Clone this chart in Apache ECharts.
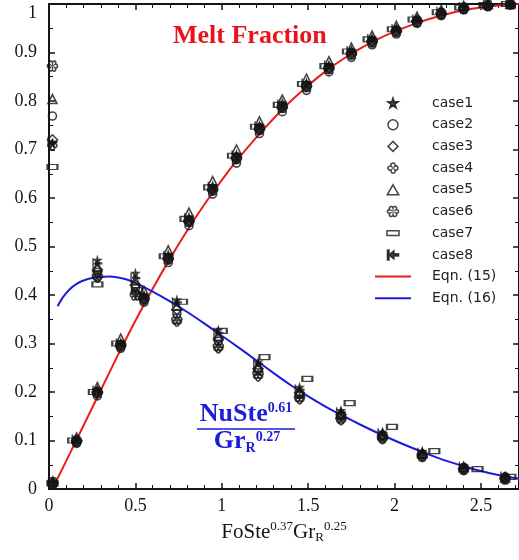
<!DOCTYPE html>
<html>
<head>
<meta charset="utf-8">
<script src="https://cdn.jsdelivr.net/npm/echarts@6/dist/echarts.min.js"></script>
<style>
  html, body { margin: 0; padding: 0; background: #fff; }
  #chart { width: 519px; height: 560px; }
</style>
</head>
<body>
<div id="chart"></div>
<script>
// Abscissa FoSte^0.37 Gr_R^0.25 of the sampled melt fraction and Nusselt values
const meltFo = [0.022, 0.16, 0.28, 0.415, 0.55, 0.69, 0.81, 0.947, 1.085, 1.218, 1.35, 1.49, 1.62, 1.75, 1.87, 2.01, 2.13, 2.27, 2.40, 2.54, 2.67];
const nuFo = [0.02, 0.28, 0.5, 0.74, 0.98, 1.21, 1.45, 1.69, 1.93, 2.16, 2.40, 2.64];
const case7MeltFo = [0.02, 0.14, 0.26, 0.395, 0.53, 0.67, 0.79, 0.927, 1.065, 1.198, 1.33, 1.47, 1.60, 1.73, 1.85, 1.99, 2.11, 2.25, 2.38, 2.52, 2.65];
const case7NuFo = [0.02, 0.28, 0.51, 0.77, 1.0, 1.247, 1.495, 1.74, 1.985, 2.23, 2.48, 2.67];

// Melt fraction and NuSte^0.61/Gr_R^0.27 for each case
const case1Melt = [0.015, 0.103, 0.205, 0.302, 0.400, 0.484, 0.561, 0.626, 0.690, 0.750, 0.796, 0.838, 0.875, 0.905, 0.930, 0.950, 0.970, 0.985, 0.995, 0.999, 1.000];
const case1Nu = [0.713, 0.472, 0.445, 0.390, 0.328, 0.262, 0.210, 0.162, 0.118, 0.078, 0.048, 0.027];
const case2Melt = [0.008, 0.094, 0.192, 0.290, 0.385, 0.467, 0.543, 0.608, 0.672, 0.733, 0.778, 0.822, 0.860, 0.890, 0.916, 0.938, 0.960, 0.976, 0.988, 0.995, 0.999];
const case2Nu = [0.769, 0.447, 0.415, 0.362, 0.305, 0.245, 0.195, 0.150, 0.108, 0.070, 0.044, 0.025];
const case3Melt = [0.012, 0.100, 0.200, 0.297, 0.394, 0.477, 0.554, 0.619, 0.684, 0.744, 0.789, 0.832, 0.869, 0.899, 0.924, 0.945, 0.966, 0.981, 0.992, 0.997, 1.000];
const case3Nu = [0.720, 0.452, 0.420, 0.370, 0.310, 0.248, 0.198, 0.153, 0.111, 0.072, 0.043, 0.023];
const case4Melt = [0.010, 0.097, 0.197, 0.294, 0.390, 0.473, 0.550, 0.615, 0.680, 0.740, 0.786, 0.829, 0.866, 0.896, 0.921, 0.943, 0.963, 0.979, 0.990, 0.996, 1.000];
const case4Nu = [0.708, 0.436, 0.405, 0.345, 0.290, 0.232, 0.185, 0.142, 0.103, 0.066, 0.039, 0.020];
const case5Melt = [0.016, 0.106, 0.210, 0.310, 0.408, 0.492, 0.570, 0.635, 0.700, 0.758, 0.803, 0.846, 0.882, 0.910, 0.935, 0.955, 0.974, 0.988, 0.996, 1.000, 1.000];
const case5Nu = [0.804, 0.458, 0.430, 0.378, 0.316, 0.252, 0.200, 0.156, 0.113, 0.074, 0.045, 0.024];
const case6Melt = [0.013, 0.099, 0.199, 0.296, 0.392, 0.475, 0.552, 0.617, 0.682, 0.742, 0.787, 0.830, 0.867, 0.897, 0.922, 0.944, 0.964, 0.980, 0.991, 0.997, 1.000];
const case6Nu = [0.872, 0.440, 0.400, 0.350, 0.295, 0.238, 0.190, 0.146, 0.106, 0.068, 0.041, 0.021];
const case7Melt = [0.012, 0.100, 0.200, 0.300, 0.396, 0.480, 0.557, 0.622, 0.687, 0.747, 0.792, 0.835, 0.872, 0.902, 0.927, 0.948, 0.968, 0.983, 0.993, 0.998, 1.000];
const case7Nu = [0.664, 0.422, 0.410, 0.386, 0.326, 0.272, 0.227, 0.177, 0.128, 0.078, 0.041, 0.025];
const case8Melt = [0.014, 0.102, 0.203, 0.300, 0.398, 0.481, 0.558, 0.623, 0.688, 0.748, 0.793, 0.836, 0.873, 0.903, 0.928, 0.948, 0.968, 0.984, 0.994, 0.999, 1.000];
const case8Nu = [0.716, 0.465, 0.435, 0.385, 0.322, 0.258, 0.205, 0.158, 0.115, 0.075, 0.046, 0.026];

// Correlation curves: Eqn. (15) melt fraction, Eqn. (16) Nusselt group
const eqn15Fo = [0.025, 0.1, 0.2, 0.3, 0.4, 0.5, 0.6, 0.7, 0.8, 0.9, 1.0, 1.1, 1.2, 1.3, 1.4, 1.5, 1.6, 1.7, 1.8, 1.9, 2.0, 2.1, 2.2, 2.3, 2.4, 2.5, 2.6, 2.72];
const eqn15Frac = [0.004, 0.058, 0.131, 0.204, 0.277, 0.347, 0.413, 0.475, 0.533, 0.587, 0.637, 0.683, 0.725, 0.764, 0.800, 0.832, 0.861, 0.886, 0.908, 0.927, 0.943, 0.957, 0.969, 0.979, 0.987, 0.993, 0.997, 1.0];
const eqn16Fo = [0.05, 0.08, 0.12, 0.16, 0.2, 0.25, 0.3, 0.35, 0.4, 0.45, 0.5, 0.6, 0.7, 0.8, 0.9, 1.0, 1.1, 1.2, 1.3, 1.4, 1.5, 1.6, 1.7, 1.8, 1.9, 2.0, 2.1, 2.2, 2.3, 2.4, 2.5, 2.6, 2.72];
const eqn16Nu = [0.377, 0.395, 0.412, 0.423, 0.430, 0.435, 0.437, 0.438, 0.436, 0.432, 0.425, 0.407, 0.387, 0.365, 0.341, 0.316, 0.291, 0.265, 0.239, 0.214, 0.191, 0.170, 0.151, 0.133, 0.116, 0.100, 0.085, 0.071, 0.058, 0.047, 0.037, 0.029, 0.021];

const serif = '"Liberation Serif", "Times New Roman", serif';
const ink = '#151515';
const red = '#ec1c1c';
const blue = '#1c1cdc';

// Marker shapes
const STAR = 'path://M50,2 L61.2,36.2 L97.6,36.2 L68.2,57.8 L79.4,92 L50,70.8 L20.6,92 L31.8,57.8 L2.4,36.2 L38.8,36.2 Z';
const DIAMOND = 'path://M50,0 L100,50 L50,100 L0,50 Z';
const TRIANGLE = 'path://M50,0 L100,87 L0,87 Z';
const QUATREFOIL = 'path://M35,35 A18,18 0 1,1 65,35 A18,18 0 1,1 65,65 A18,18 0 1,1 35,65 A18,18 0 1,1 35,35 Z';
const FLOWER = 'path://M50,20 A16,16 0 1,1 76,35 A16,16 0 1,1 76,65 A16,16 0 1,1 50,80 A16,16 0 1,1 24,65 A16,16 0 1,1 24,35 A16,16 0 1,1 50,20 Z';
const BAR_ARROW = 'path://M0,5 H14 V95 H0 Z M14,50 L58,14 L58,40 L100,40 L100,60 L58,60 L58,86 Z';
// Legend keys: a small flat box inside a 2:1 frame, and a thin bar for the curves
const WIDE_RECT_ICON = 'path://M0,0 L0,0.01 M100,50 L100,49.99 M20,13 H80 V37 H20 Z';
const LINE_ICON = 'path://M0,0 H100 V5.5 H0 Z';

function pairs(xs, ys) {
  return xs.map((x, i) => [x, ys[i]]);
}

function caseSeries(name, symbol, size, filled, meltX, melt, nuX, nu) {
  return {
    type: 'scatter',
    name: name,
    symbol: symbol,
    symbolSize: size,
    data: pairs(meltX, melt).concat(pairs(nuX, nu)),
    itemStyle: filled
      ? { color: ink, borderColor: ink, borderWidth: 0 }
      : { color: 'rgba(255,255,255,0)', borderColor: ink, borderWidth: 1.6 },
    z: 3
  };
}

function frameAxis(pos, isX) {
  return {
    type: 'value', min: 0, max: isX ? 2.72 : 1, interval: isX ? 0.5 : 0.1,
    position: pos,
    axisLine: { show: true, onZero: false, lineStyle: { color: ink, width: 2 } },
    axisTick: { show: true, inside: true, length: 6, lineStyle: { color: ink, width: 1.5 } },
    minorTick: { show: true, splitNumber: isX ? 5 : 2, length: 4, lineStyle: { color: ink, width: 1 } },
    splitLine: { show: false },
    axisLabel: { show: false }
  };
}

const xBottom = frameAxis('bottom', true);
xBottom.axisLabel = { show: true, margin: 8, fontFamily: serif, fontSize: 18, color: ink, showMaxLabel: false };
xBottom.name = '{m|FoSte}{p|0.37}{m|Gr}{b|R}{p|0.25}';
xBottom.nameLocation = 'middle';
xBottom.nameGap = 20;
xBottom.nameTextStyle = {
  rich: {
    m: { fontFamily: serif, fontSize: 21, color: ink },
    p: { fontFamily: serif, fontSize: 13, color: ink, padding: [0, 0, 12, 0] },
    b: { fontFamily: serif, fontSize: 13, color: ink, padding: [10, 0, 0, 0] }
  }
};
const xTop = frameAxis('top', true);

const yLeft = frameAxis('left', false);
yLeft.axisLabel = {
  show: true, margin: 12, fontFamily: serif, fontSize: 18, color: ink,
  formatter: v => (v === 1 ? '{t|1}' : String(v)),
  rich: { t: { fontFamily: serif, fontSize: 18, color: ink, padding: [19, 0, 0, 0] } }
};
const yRight = frameAxis('right', false);

const chart = echarts.init(document.getElementById('chart'), null, { renderer: 'canvas' });

chart.setOption({
  animation: false,
  backgroundColor: '#fff',
  grid: { left: 49, top: 4, width: 471, height: 485, containLabel: false },
  xAxis: [xBottom, xTop],
  yAxis: [yLeft, yRight],
  legend: {
    orient: 'vertical', left: 375, top: 95, padding: 0,
    itemWidth: 36, itemHeight: 10, itemGap: 5.7,
    itemStyle: { borderWidth: 1.5 },
    textStyle: { fontFamily: '"DejaVu Sans", Verdana, sans-serif', fontSize: 14, color: '#222', lineHeight: 16, padding: [0, 0, 0, 16] },
    data: [
      { name: 'case1' }, { name: 'case2' }, { name: 'case3' }, { name: 'case4' },
      { name: 'case5' }, { name: 'case6' },
      { name: 'case7', icon: WIDE_RECT_ICON, itemStyle: { borderWidth: 1.5 } },
      { name: 'case8' },
      { name: 'Eqn. (15)', icon: LINE_ICON, itemStyle: { color: red, borderWidth: 0 } },
      { name: 'Eqn. (16)', icon: LINE_ICON, itemStyle: { color: blue, borderWidth: 0 } }
    ]
  },
  graphic: [
    {
      type: 'text', x: 173, y: 36, z: 10,
      style: { text: 'Melt Fraction', font: 'bold 26px ' + serif, fill: '#e8141b', verticalAlign: 'middle' }
    },
    {
      type: 'text', x: 246, y: 414, z: 10,
      style: {
        text: '{a|NuSte}{s|0.61}', align: 'center', verticalAlign: 'middle', fill: blue,
        rich: {
          a: { font: 'bold 26px ' + serif, fill: blue },
          s: { font: 'bold 14px ' + serif, fill: blue, padding: [0, 0, 12, 0] }
        }
      }
    },
    {
      type: 'line', z: 10,
      shape: { x1: 197, y1: 429, x2: 295, y2: 429 },
      style: { stroke: blue, lineWidth: 1.5 }
    },
    {
      type: 'text', x: 247, y: 441, z: 10,
      style: {
        text: '{a|Gr}{r|R}{s|0.27}', align: 'center', verticalAlign: 'middle', fill: blue,
        rich: {
          a: { font: 'bold 26px ' + serif, fill: blue },
          r: { font: 'bold 14px ' + serif, fill: blue, padding: [14, 0, 0, 0] },
          s: { font: 'bold 14px ' + serif, fill: blue, padding: [0, 0, 8, 0] }
        }
      }
    }
  ],
  series: [
    {
      type: 'line', name: 'Eqn. (15)', data: pairs(eqn15Fo, eqn15Frac),
      symbol: 'none', smooth: 0.25,
      lineStyle: { color: red, width: 2 }, itemStyle: { color: red }, z: 2
    },
    {
      type: 'line', name: 'Eqn. (16)', data: pairs(eqn16Fo, eqn16Nu),
      symbol: 'none', smooth: 0.25,
      lineStyle: { color: blue, width: 2 }, itemStyle: { color: blue }, z: 2
    },
    caseSeries('case1', STAR, 11, true, meltFo, case1Melt, nuFo, case1Nu),
    caseSeries('case2', 'circle', 8, false, meltFo, case2Melt, nuFo, case2Nu),
    caseSeries('case3', DIAMOND, 10, false, meltFo, case3Melt, nuFo, case3Nu),
    caseSeries('case4', QUATREFOIL, 9, false, meltFo, case4Melt, nuFo, case4Nu),
    caseSeries('case5', TRIANGLE, 9, false, meltFo, case5Melt, nuFo, case5Nu),
    caseSeries('case6', FLOWER, 10, false, meltFo, case6Melt, nuFo, case6Nu),
    caseSeries('case7', 'rect', [10, 5], false, case7MeltFo, case7Melt, case7NuFo, case7Nu),
    caseSeries('case8', BAR_ARROW, 10, true, meltFo, case8Melt, nuFo, case8Nu)
  ]
});
</script>
</body>
</html>
